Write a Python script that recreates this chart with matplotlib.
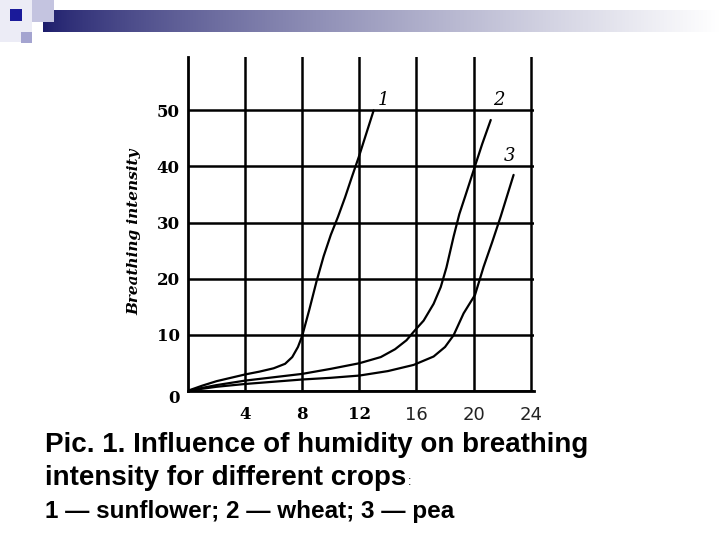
import numpy as np
import matplotlib.pyplot as plt
from matplotlib.patches import Rectangle
from matplotlib.transforms import ScaledTranslation

# humidity (%) vs breathing intensity
sunflower_x = [0, 1, 2, 3, 4, 5, 6, 6.8, 7.3, 7.7, 8, 8.5, 9, 9.5, 10, 10.5, 11, 11.5, 12, 12.5, 13]
sunflower_y = [0, 0.9, 1.7, 2.3, 2.9, 3.4, 4.0, 4.8, 6.0, 7.8, 9.8, 14.5, 19.5, 24.0, 27.8, 31.0, 34.5, 38.3, 42.0, 46.0, 50.0]

wheat_x = [0, 2, 4, 6, 8, 10, 12, 13.5, 14.5, 15.3, 15.9, 16.5, 17.2, 17.7, 18.1, 18.6, 19.0, 19.4, 20.1, 20.6, 21.2]
wheat_y = [0, 1.0, 1.8, 2.4, 3.0, 3.9, 4.9, 6.0, 7.4, 9.0, 10.8, 12.5, 15.5, 18.5, 22.0, 27.5, 31.5, 34.6, 40.1, 44.0, 48.3]

pea_x = [0, 2, 4, 6, 8, 10, 12, 14, 15.8, 17.2, 18, 18.6, 19.3, 20.1, 20.7, 21.3, 21.9, 22.8]
pea_y = [0, 0.7, 1.2, 1.6, 2.0, 2.3, 2.7, 3.5, 4.6, 6.1, 7.8, 9.9, 13.8, 17.1, 22.1, 26.5, 31.1, 38.5]

curve_labels = ["1", "2", "3"]
label_pos = [(13.7, 50.3), (21.8, 50.3), (22.5, 40.2)]

x_ticks = [4, 8, 12, 16, 20, 24]
y_ticks = [0, 10, 20, 30, 40, 50]

fig = plt.figure(figsize=(7.2, 5.4), dpi=100)
fig.patch.set_facecolor("white")

# slide template decoration at the top
def px_rect(x0, y0, x1, y1, color):
    fig.patches.append(Rectangle((x0 / 720, 1 - y1 / 540), (x1 - x0) / 720, (y1 - y0) / 540,
                                 transform=fig.transFigure, color=color, lw=0, zorder=0))

px_rect(0, 0, 32, 42, "#ececf6")
px_rect(32, 0, 54, 22, "#c4c4e0")
px_rect(21, 32, 32, 43, "#a4a4d0")
bar = fig.add_axes([43 / 720, 1 - 32 / 540, 1 - 43 / 720, 22 / 540])
grad = np.linspace(0, 1, 256).reshape(1, -1) ** 0.75
start = np.array([0.11, 0.11, 0.42])
cols = start[None, None, :] + (1 - start[None, None, :]) * grad[..., None]
bar.imshow(cols, aspect="auto", extent=(0, 1, 0, 1))
bar.axis("off")
px_rect(10, 9, 22, 21, "#1a1a9a")

ax = fig.add_axes([188 / 720, 149.3 / 540, 0.476 * 24.2 / 24, 333.5 / 540])
ax.set_xlim(0, 24.2)
ax.set_ylim(0, 59.5)

for xs, ys in [(sunflower_x, sunflower_y), (wheat_x, wheat_y), (pea_x, pea_y)]:
    ax.plot(xs, ys, color="black", lw=1.6, solid_capstyle="round")

for lab, (lx, ly) in zip(curve_labels, label_pos):
    ax.text(lx, ly, lab, fontsize=13, family="DejaVu Serif", style="italic",
            ha="center", va="bottom")

ax.set_xticks(x_ticks, [str(v) for v in x_ticks])
ax.set_yticks(y_ticks, [str(v) for v in y_ticks])
ax.grid(True, color="black", lw=1.8)
ax.set_axisbelow(True)
ax.tick_params(length=0)
ax.tick_params(axis="x", pad=11)
ax.tick_params(axis="y", pad=6)
for s in ["top", "right"]:
    ax.spines[s].set_visible(False)
for s in ["left", "bottom"]:
    ax.spines[s].set_linewidth(2.0)

for lab in ax.get_yticklabels():
    lab.set_fontfamily("DejaVu Serif")
    lab.set_fontweight("bold")
    lab.set_fontsize(12)
ax.get_yticklabels()[0].set_transform(
    ax.get_yticklabels()[0].get_transform() + ScaledTranslation(0, -6 / 100, fig.dpi_scale_trans))
for i, lab in enumerate(ax.get_xticklabels()):
    if i < 3:
        lab.set_fontfamily("DejaVu Serif")
        lab.set_fontweight("bold")
        lab.set_fontsize(12)
    else:
        lab.set_fontfamily("DejaVu Sans")
        lab.set_fontsize(13)
        lab.set_color("#222222")

ax.set_ylabel("Breathing intensity", family="DejaVu Serif", style="italic",
              fontweight="bold", fontsize=11)
ax.yaxis.set_label_coords(-0.135, (390.7 - 232) / 333.5)

fig.text(45 / 720, 1 - 452 / 540, "Pic. 1. Influence of humidity on breathing",
         family="Liberation Sans", fontweight="bold", fontsize=20, va="baseline")
t2 = fig.text(45 / 720, 1 - 485 / 540, "intensity for different crops",
              family="Liberation Sans", fontweight="bold", fontsize=20, va="baseline")
fig.canvas.draw()
bb = t2.get_window_extent()
fig.text(bb.x1 / 720 + 0.002, 1 - 485 / 540, ":", family="Liberation Sans",
         fontsize=9, va="baseline")
fig.text(45 / 720, 1 - 518 / 540, "1 \u2014 sunflower; 2 \u2014 wheat; 3 \u2014 pea",
         family="Liberation Sans", fontweight="bold", fontsize=17.5, va="baseline")

fig.savefig("out.png", dpi=100)
